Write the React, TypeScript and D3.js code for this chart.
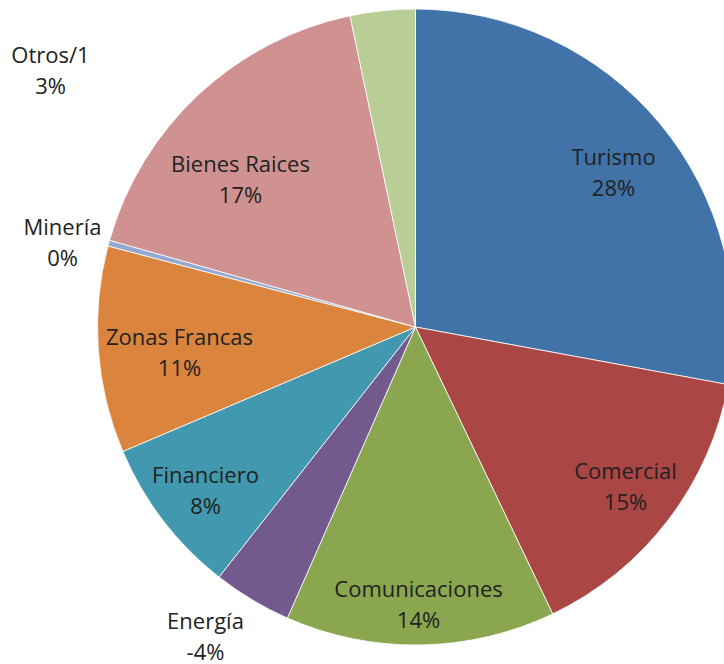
import React from "react";
import * as d3 from "d3";

const categories = ["Turismo", "Comercial", "Comunicaciones", "Energía", "Financiero", "Zonas Francas", "Minería", "Bienes Raices", "Otros/1"];
const values = [27.9, 15.0, 13.7, -4.0, 8.0, 10.5, 0.3, 17.3, 3.3];
const colors = ["#4173A8", "#AA4644", "#8AA64E", "#725A8F", "#4198AF", "#DB843D", "#93A9CF", "#CF9291", "#B9CD96"];
// label anchor offsets from pie centre (for best-fit placement)
const labelOffsets: [number, number][] = [
  [198, -156], [210, 158], [3, 276], [-210, 308], [-210, 162], [-236, 24], [-353, -86], [-175, -149], [-365, -258],
];

const W = 724, H = 664;
const cx = 415.5, cy = 327, R = 318;

export default function App() {
  const pie = d3.pie<number>().sort(null).value((d) => Math.abs(d));
  const arcs = pie(values);
  const arc = d3.arc<d3.PieArcDatum<number>>().innerRadius(0).outerRadius(R);
  return (
    <svg width={W} height={H} style={{ position: "absolute", left: 0, top: 0 }}>
      <g transform={`translate(${cx},${cy})`}>
        {arcs.map((a, i) => (
          <path key={i} d={arc(a) || ""} fill={colors[i]} stroke="#fff" strokeWidth={0.8} />
        ))}
        {arcs.map((a, i) => {
          const [x, y] = labelOffsets[i];
          return (
            <g key={"t" + i} fontFamily="'Open Sans', sans-serif" fontSize={22} fill="#222" textAnchor="middle">
              <text x={x} y={y - 15.5} dominantBaseline="central">{categories[i]}</text>
              <text x={x} y={y + 15.5} dominantBaseline="central">{`${Math.round(values[i])}%`}</text>
            </g>
          );
        })}
      </g>
    </svg>
  );
}
